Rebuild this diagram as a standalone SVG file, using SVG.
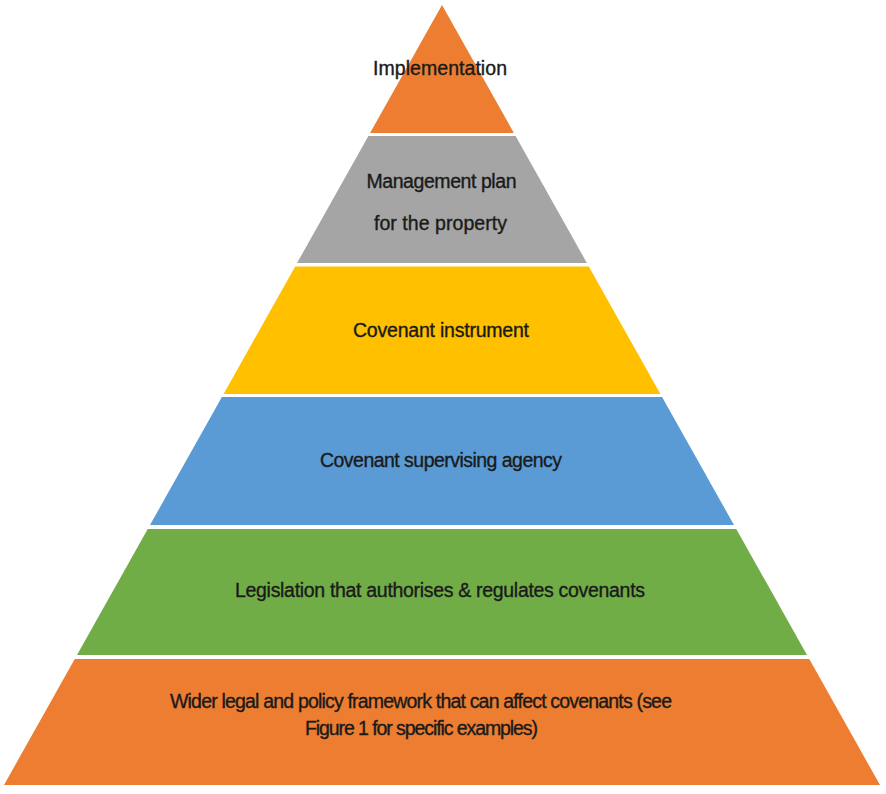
<svg xmlns="http://www.w3.org/2000/svg" width="886" height="794" viewBox="0 0 886 794">
  <style>
    .lbl { font-family: "Liberation Sans", Arial, sans-serif; font-size: 19.5px; fill: #1a1a1a; stroke: #1a1a1a; stroke-width: 0.35px; text-anchor: middle; }
    .orange { fill: #ED7D31; }
    .gray { fill: #A5A5A5; }
    .yellow { fill: #FFC000; }
    .blue { fill: #5B9BD5; }
    .green { fill: #70AD47; }
  </style>
  <rect x="0" y="0" width="886" height="794" fill="#FFFFFF"/>
  <g id="implementation">
    <polygon class="orange" points="442,5 513.9,133 370.1,133"/>
    <text class="lbl" x="440" y="75" textLength="134">Implementation</text>
  </g>
  <g id="management-plan">
    <polygon class="gray" points="368.4,136 515.6,136 586.9,263 297.1,263"/>
    <text class="lbl" x="441.5" y="188" textLength="150">Management plan</text>
    <text class="lbl" x="440.5" y="230" textLength="133">for the property</text>
  </g>
  <g id="covenant-instrument">
    <polygon class="yellow" points="295.2,266.5 588.8,266.5 660.4,394 223.6,394"/>
    <text class="lbl" x="441" y="337" textLength="176">Covenant instrument</text>
  </g>
  <g id="covenant-supervising-agency">
    <polygon class="blue" points="221.9,397 662.1,397 734,525 150,525"/>
    <text class="lbl" x="441" y="467" textLength="242">Covenant supervising agency</text>
  </g>
  <g id="legislation">
    <polygon class="green" points="147.75,529 736.25,529 807,655 77,655"/>
    <text class="lbl" x="440" y="597" textLength="410">Legislation that authorises &amp; regulates covenants</text>
  </g>
  <g id="wider-framework">
    <polygon class="orange" points="74.75,659 809.25,659 880,785 4,785"/>
    <text class="lbl" x="421" y="708" textLength="502">Wider legal and policy framework that can affect covenants (see</text>
    <text class="lbl" x="421.5" y="735" textLength="233">Figure 1 for specific examples)</text>
  </g>
</svg>
